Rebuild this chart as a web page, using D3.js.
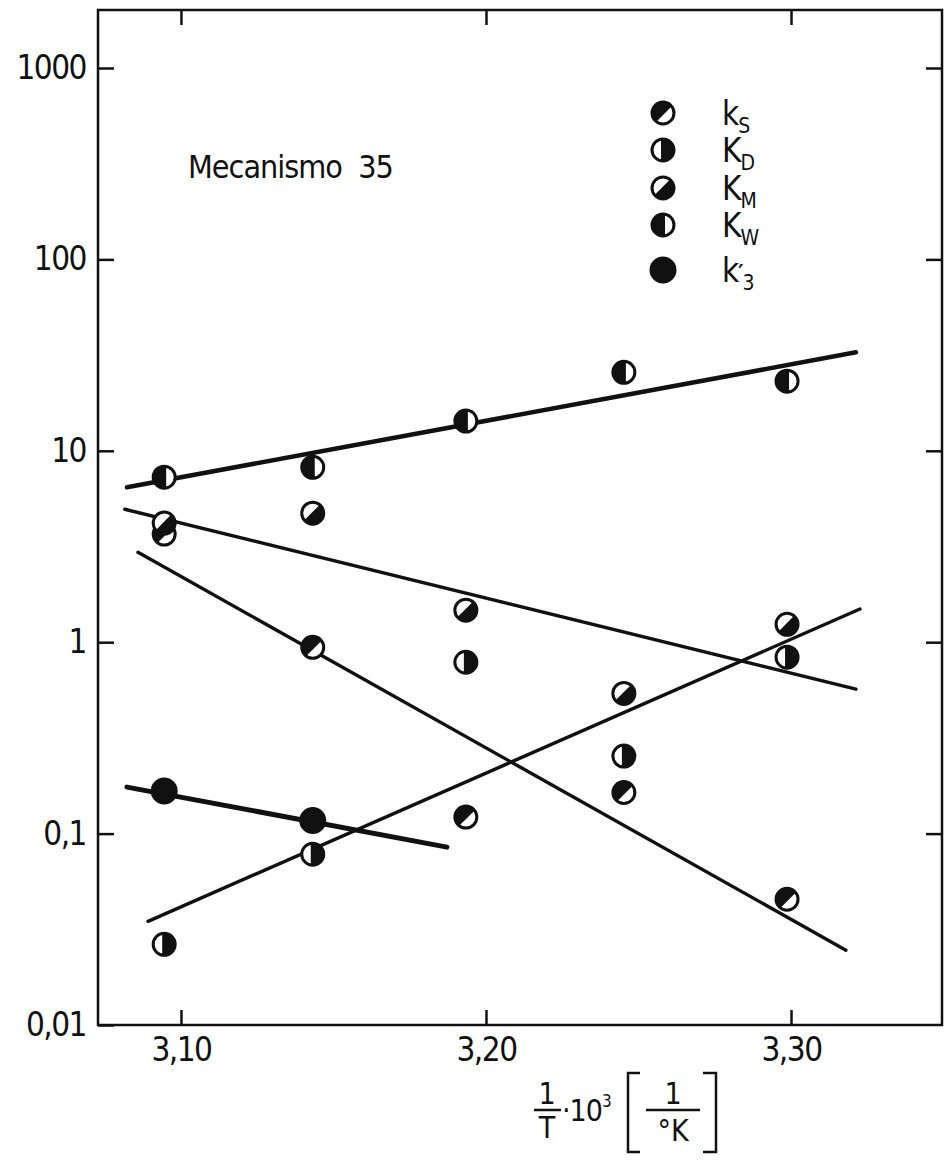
<!DOCTYPE html>
<meta charset="utf-8">

<!-- Load d3.js -->
<script src="https://d3js.org/d3.v7.min.js"></script>
<style>
    body {
      margin: 0px;
      background: #fff;
    }
    text {
      font-family: "Liberation Sans Narrow", "DejaVu Sans Condensed", "Arial Narrow", sans-serif;
      fill: #111;
    }
</style>

<div id="my_dataviz"></div>
<script>

// 1/T * 10^3  (50, 45, 40, 35, 30 °C)
const invT = [3.0945, 3.1432, 3.1934, 3.2452, 3.2987];

// rate constants
const kS = [3.67, 0.94, 0.122, 0.164, 0.0454];
const kD = [0.0264, 0.078, 0.786, 0.254, 0.835];
const kM = [4.19, 4.72, 1.47, 0.54, 1.24];
const kW = [7.28, 8.2, 14.3, 25.7, 23.1];
const k3 = [0.167, 0.117];

// hand drawn straight lines, [1/T, k] at both ends
const fitW = [[3.0823, 6.45], [3.3213, 32.7]];
const fitM = [[3.0816, 4.95], [3.3213, 0.568]];
const fitS = [[3.0859, 2.95], [3.318, 0.0246]];
const fitD = [[3.0892, 0.0348], [3.3226, 1.49]];
const fit3 = [[3.0823, 0.175], [3.1872, 0.085]];

const xTicks = [3.10, 3.20, 3.30];
const yTicks = [1000, 100, 10, 1, 0.1, 0.01];
const yTickLabels = ["1000", "100", "10", "1", "0,1", "0,01"];

const ink = "#111";

var svg = d3.select("#my_dataviz")
  .append("svg")
    .attr("width", 948)
    .attr("height", 1165);

// plot frame
var frameL = 98, frameR = 942, frameT = 10, frameB = 1025;

var x = d3.scaleLinear().domain([3.0728, 3.3495]).range([frameL, frameR]);
var y = d3.scaleLog().domain([0.01, 1000]).range([frameB, 68]);

var fmtX = d3.formatLocale({decimal: ",", thousands: ".", grouping: [3], currency: ["", ""]}).format(".2f");

svg.append("rect")
    .attr("x", frameL).attr("y", frameT)
    .attr("width", frameR - frameL).attr("height", frameB - frameT)
    .attr("fill", "none").attr("stroke", ink).attr("stroke-width", 2.5);

function styleAxis(g) {
  g.select(".domain").remove();
  g.selectAll(".tick line").attr("stroke", ink).attr("stroke-width", 2.5);
  g.selectAll(".tick text")
    .style("font-size", "33px")
    .style("letter-spacing", "-1.5px")
    .attr("fill", ink);
}

// left axis
svg.append("g")
    .attr("transform", "translate(" + frameL + ",0)")
    .call(d3.axisLeft(y).tickValues(yTicks)
      .tickFormat(function(d, i) { return yTickLabels[i]; })
      .tickSizeInner(-16).tickSizeOuter(0).tickPadding(12))
    .call(styleAxis);

// right axis, ticks only
svg.append("g")
    .attr("transform", "translate(" + frameR + ",0)")
    .call(d3.axisRight(y).tickValues(yTicks.slice(0, 5)).tickFormat("")
      .tickSizeInner(-16).tickSizeOuter(0))
    .call(styleAxis);

// bottom axis
svg.append("g")
    .attr("transform", "translate(0," + frameB + ")")
    .call(d3.axisBottom(x).tickValues(xTicks).tickFormat(fmtX)
      .tickSizeInner(-15).tickSizeOuter(0).tickPadding(13))
    .call(styleAxis);

// top axis, ticks only
svg.append("g")
    .attr("transform", "translate(0," + frameT + ")")
    .call(d3.axisTop(x).tickValues(xTicks).tickFormat("")
      .tickSizeInner(-15).tickSizeOuter(0))
    .call(styleAxis);

// lines
var line = d3.line()
    .x(function(d) { return x(d[0]); })
    .y(function(d) { return y(d[1]); });

var fits = [
  {pts: fitW, w: 4.5},
  {pts: fitM, w: 3.4},
  {pts: fitS, w: 3.4},
  {pts: fitD, w: 3.4},
  {pts: fit3, w: 5}
];
svg.selectAll(".fit")
  .data(fits)
  .enter()
  .append("path")
    .attr("class", "fit")
    .attr("d", function(d) { return line(d.pts); })
    .attr("fill", "none")
    .attr("stroke", ink)
    .attr("stroke-width", function(d) { return d.w; })
    .attr("stroke-linecap", "round");

// symbol types: white segment direction (deg) and chord offset
var symStyle = {
  S: {theta: 45, d: 0.15, r: 11},
  D: {theta: 180, d: 0.2, r: 11},
  M: {theta: 225, d: 0.1, r: 11},
  W: {theta: 0, d: 0.2, r: 11},
  k3: {theta: null, d: 0, r: 12}
};

function segPath(r, thetaDeg, d) {
  var t = thetaDeg * Math.PI / 180, a = Math.acos(d);
  var x1 = r * Math.cos(t - a), y1 = r * Math.sin(t - a);
  var x2 = r * Math.cos(t + a), y2 = r * Math.sin(t + a);
  return "M" + x1 + "," + y1 + "A" + r + "," + r + " 0 0 1 " + x2 + "," + y2 + "Z";
}

function drawSymbol(g, key) {
  var s = symStyle[key];
  g.append("circle").attr("r", s.r).attr("fill", ink);
  if (s.theta !== null) {
    g.append("path").attr("d", segPath(s.r - 1, s.theta, s.d)).attr("fill", "#fff");
  }
  g.append("circle").attr("r", s.r).attr("fill", "none")
    .attr("stroke", ink).attr("stroke-width", 3);
}

var series = [
  {key: "S", vals: kS},
  {key: "D", vals: kD},
  {key: "M", vals: kM},
  {key: "W", vals: kW},
  {key: "k3", vals: k3}
];

series.forEach(function(s) {
  s.vals.forEach(function(v, i) {
    var g = svg.append("g")
      .attr("transform", "translate(" + x(invT[i]) + "," + y(v) + ")");
    drawSymbol(g, s.key);
  });
});

// legend
var legendY = [113, 150, 188, 225, 270];
var legendMain = ["k", "K", "K", "K", "k"];
var legendSub = ["S", "D", "M", "W", "3"];

series.forEach(function(s, i) {
  var g = svg.append("g").attr("transform", "translate(663," + legendY[i] + ")");
  drawSymbol(g, s.key);
  var t = svg.append("text")
    .attr("x", 722).attr("y", legendY[i] + 12)
    .style("font-size", "33px")
    .style("letter-spacing", "-1px")
    .text(legendMain[i]);
  if (i === 4) {
    // prime on k'3
    t.append("tspan").attr("dy", -2).style("font-size", "22px").style("font-weight", "bold").text("′");
    t.append("tspan").attr("dy", 10).style("font-size", "21px").text(legendSub[i]);
  } else {
    t.append("tspan").attr("dy", 8).style("font-size", "21px").text(legendSub[i]);
  }
});

// caption
svg.append("text")
    .attr("x", 188).attr("y", 178)
    .style("font-size", "32px")
    .style("letter-spacing", "-1px")
    .style("white-space", "pre")
    .text("Mecanismo  35");

// x axis label: 1/T · 10^3 [1/°K]
var xl = svg.append("g");
xl.append("text").attr("x", 547).attr("y", 1104).attr("text-anchor", "middle").style("font-size", "30px").text("1");
xl.append("line").attr("x1", 534).attr("x2", 561).attr("y1", 1110).attr("y2", 1110).attr("stroke", ink).attr("stroke-width", 2.5);
xl.append("text").attr("x", 547).attr("y", 1138).attr("text-anchor", "middle").style("font-size", "30px").text("T");
var tt = xl.append("text").attr("x", 562).attr("y", 1121).style("font-size", "30px").style("letter-spacing", "-1px").text("·10");
tt.append("tspan").attr("dy", -14).style("font-size", "17px").text("3");
xl.append("path").attr("d", "M640,1073H628V1152H640").attr("fill", "none").attr("stroke", ink).attr("stroke-width", 2.5);
xl.append("path").attr("d", "M703,1073H716V1152H703").attr("fill", "none").attr("stroke", ink).attr("stroke-width", 2.5);
xl.append("text").attr("x", 673).attr("y", 1104).attr("text-anchor", "middle").style("font-size", "30px").text("1");
xl.append("line").attr("x1", 646).attr("x2", 700).attr("y1", 1110).attr("y2", 1110).attr("stroke", ink).attr("stroke-width", 2.5);
xl.append("text").attr("x", 673).attr("y", 1141).attr("text-anchor", "middle").style("font-size", "30px").text("°K");

</script>
